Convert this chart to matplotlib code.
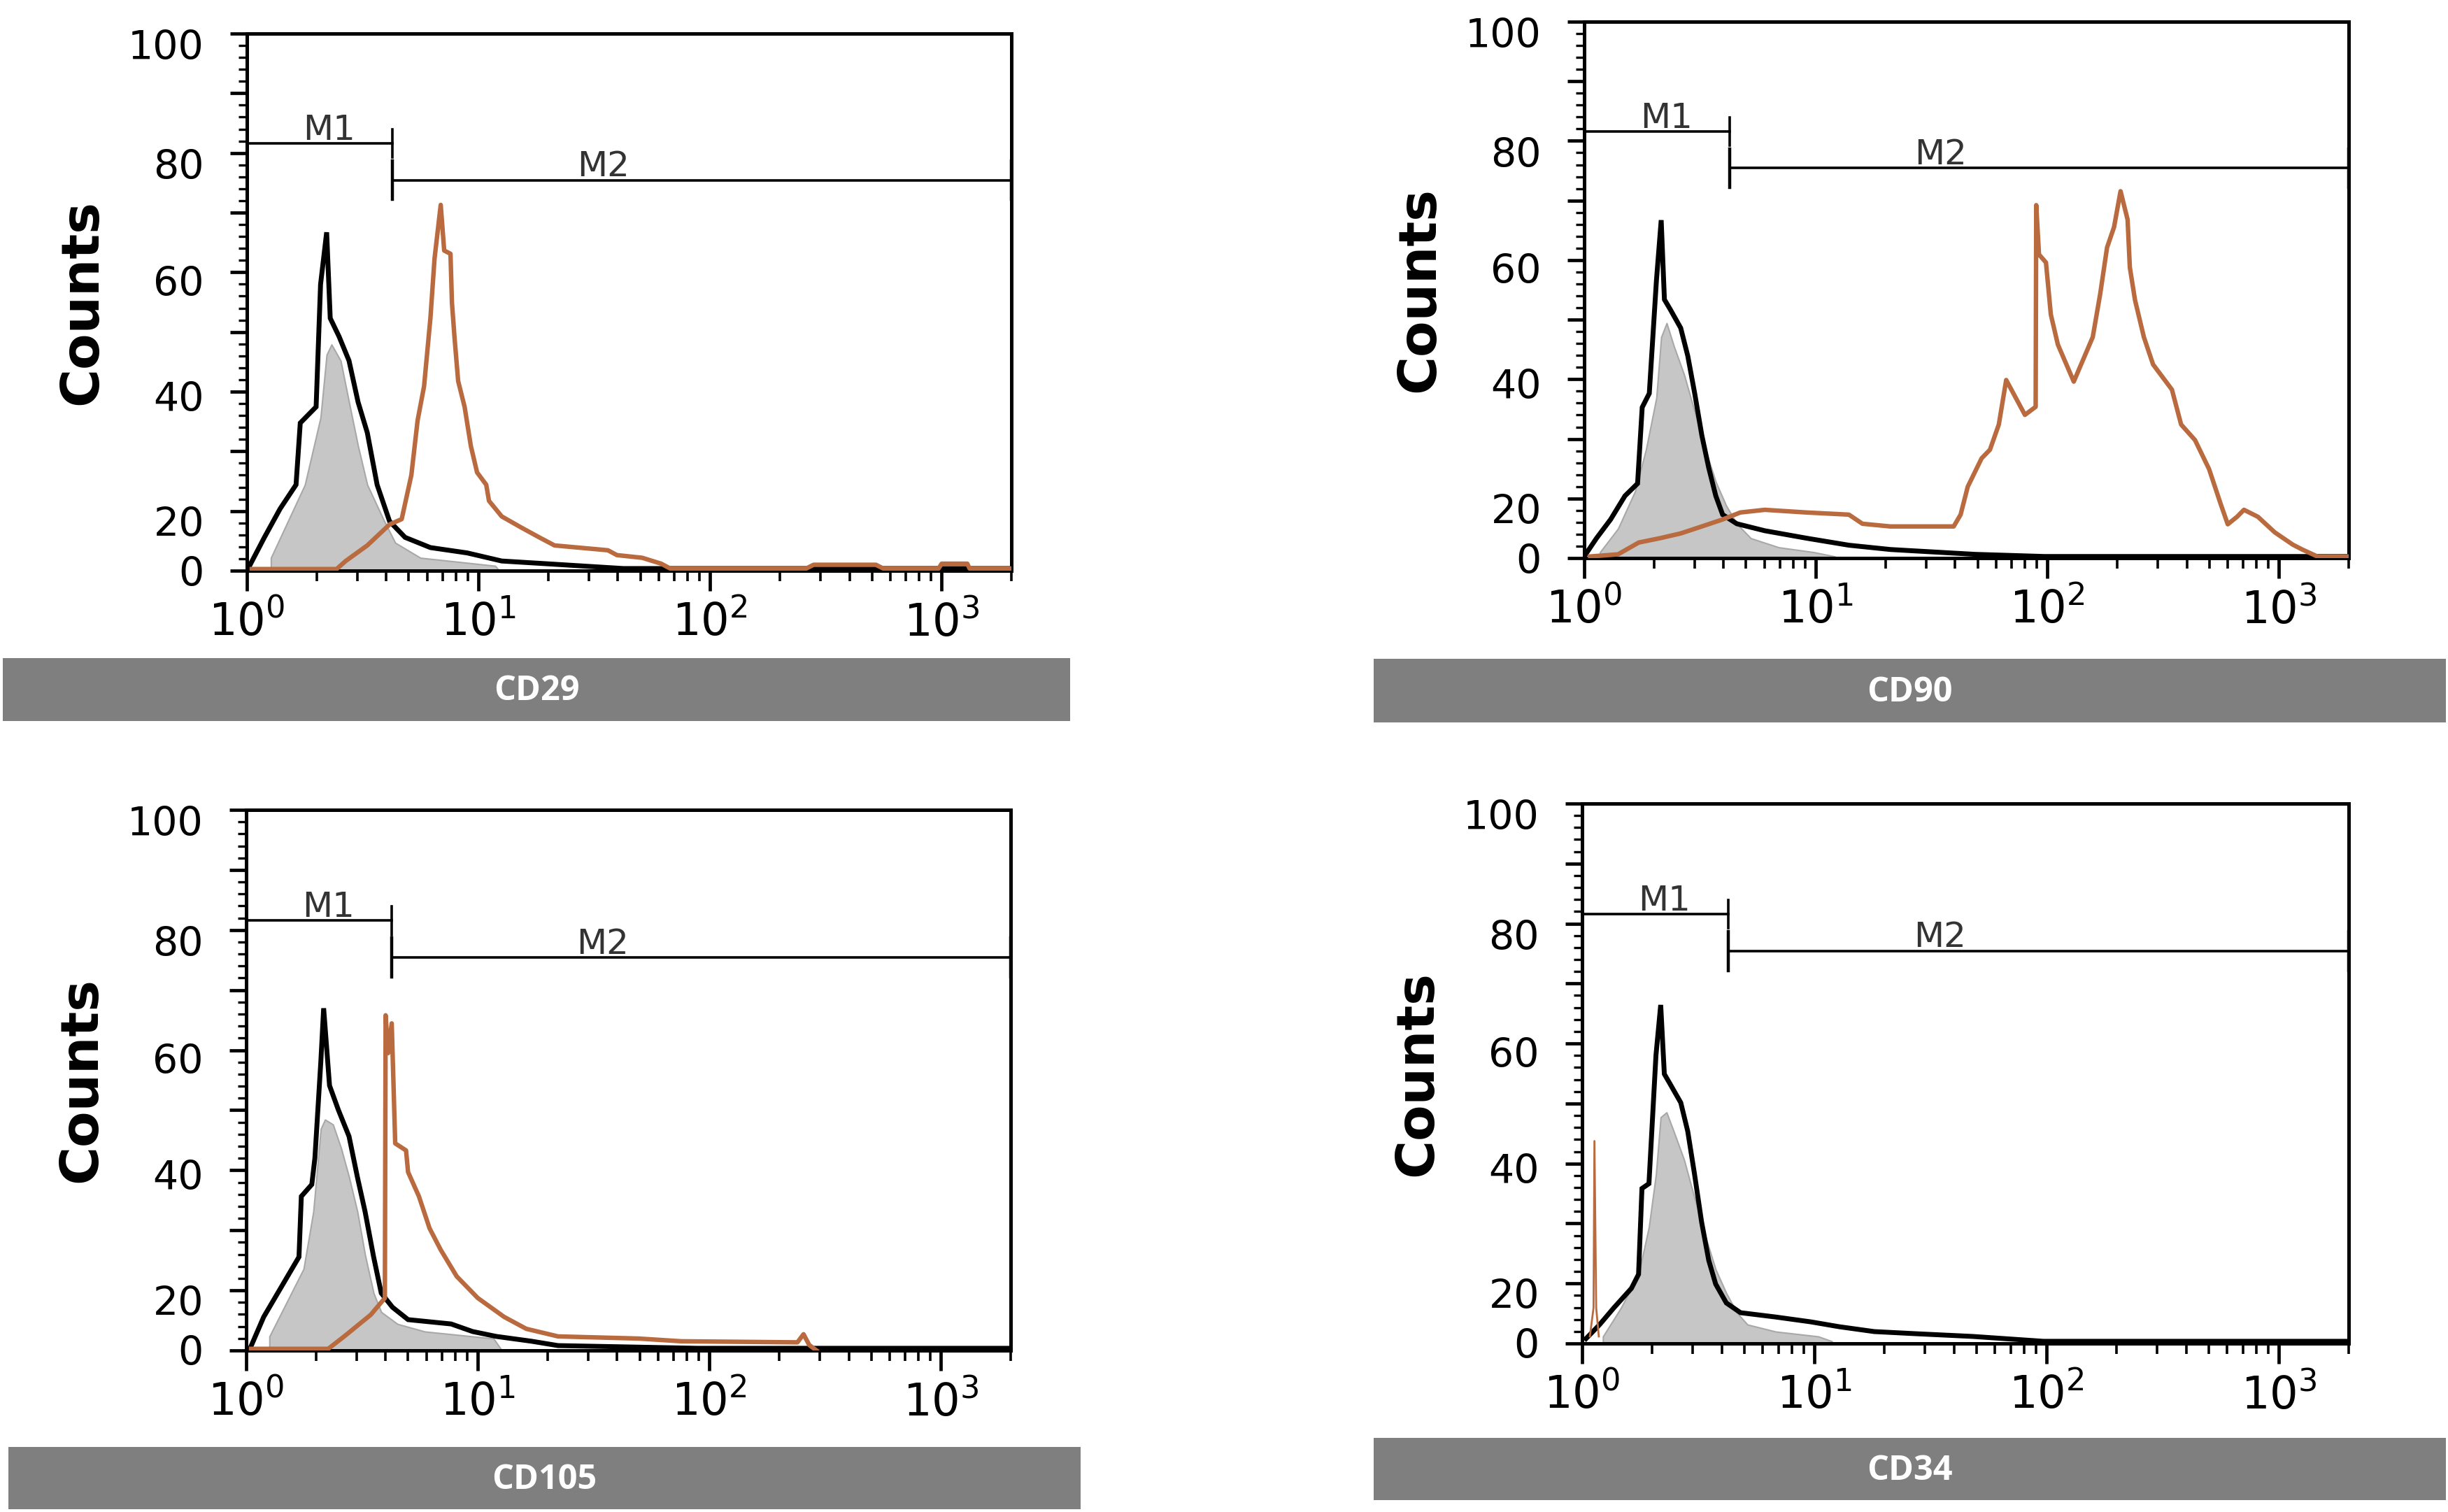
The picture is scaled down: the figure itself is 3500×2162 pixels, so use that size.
import numpy as np
import matplotlib
matplotlib.use("Agg")
from matplotlib import pyplot as plt
from matplotlib.ticker import FixedLocator, MultipleLocator, LogLocator, NullFormatter

# ---- data (x = fluorescence, y = counts on the plot scale) ----
markers = ["CD29", "CD90", "CD105", "CD34"]

cd29_gray_x = [1.27, 1.78, 2.08, 2.21, 2.32, 2.54, 2.76, 3.02, 3.31, 3.88, 4.37, 5.61, 11.8, 12.3]
cd29_gray_y = [2.4, 16.0, 28.5, 40.2, 42.1, 39.1, 31.4, 23.2, 16.0, 9.6, 5.2, 2.4, 0.9, 0.0]
cd29_black_x = [1.01, 1.19, 1.39, 1.63, 1.70, 1.99, 2.08, 2.21, 2.29, 2.50, 2.76, 3.02, 3.31, 3.65,
                4.13, 4.82, 6.20, 8.95, 12.6, 19.5, 42.2, 2000]
cd29_black_y = [0.3, 6.2, 11.5, 16.0, 27.5, 30.5, 53.3, 63.0, 47.0, 43.6, 39.1, 31.4, 25.7, 16.0,
                9.2, 6.2, 4.3, 3.3, 1.8, 1.3, 0.4, 0.4]
cd29_brown_x = [1.05, 2.44, 2.67, 3.31, 4.13, 4.66, 5.13, 5.46, 5.82, 6.20, 6.46, 6.87, 7.11, 7.57,
                7.68, 7.89, 8.17, 8.71, 9.27, 9.86, 10.8, 11.1, 12.6, 15.2, 18.3, 21.3, 36.2, 39.6,
                50.9, 61.5, 67.3, 260, 280, 520, 560, 970, 1000, 1290, 1320, 2000]
cd29_brown_y = [0.3, 0.3, 1.8, 4.7, 8.6, 9.6, 17.8, 28.0, 34.3, 47.0, 58.1, 68.1, 59.6, 59.0,
                49.9, 43.1, 35.3, 30.5, 23.2, 18.3, 16.0, 13.0, 10.1, 8.1, 6.2, 4.7, 3.8, 2.9,
                2.4, 1.3, 0.4, 0.4, 1.1, 1.1, 0.4, 0.4, 1.3, 1.3, 0.4, 0.4]

cd90_gray_x = [1.17, 1.40, 1.66, 1.85, 2.05, 2.15, 2.27, 2.44, 2.70, 3.00, 3.33, 3.70, 4.10, 4.56,
               5.24, 6.92, 9.8, 12.1]
cd90_gray_y = [1.1, 5.5, 12.5, 20.3, 29.9, 41.2, 43.8, 39.5, 34.2, 27.3, 20.3, 14.2, 9.8, 6.4,
               3.7, 2.0, 1.1, 0.3]
cd90_black_x = [1.0, 1.13, 1.30, 1.50, 1.70, 1.78, 1.91, 2.05, 2.15, 2.22, 2.35, 2.61, 2.80, 3.00,
                3.22, 3.45, 3.70, 3.96, 4.56, 6.02, 9.14, 13.9, 21.0, 48.6, 97, 2000]
cd90_black_y = [0.3, 3.7, 7.2, 11.6, 13.9, 28.1, 30.7, 51.7, 63.0, 48.2, 46.4, 42.9, 37.7, 30.7,
                22.9, 16.8, 11.6, 8.1, 6.4, 5.1, 3.7, 2.4, 1.6, 0.7, 0.3, 0.3]
cd90_brown_x = [1.06, 1.40, 1.72, 2.12, 2.61, 3.22, 3.96, 4.72, 6.02, 9.14, 13.9, 15.9, 21.0, 39.4,
                42.2, 45.3, 52.0, 56.5, 61.7, 66.4, 80, 89, 89.5, 92, 98.6, 103.5, 111, 130,
                157, 169, 181, 194, 207, 222, 227, 239, 261, 286, 345, 378, 434, 499, 561,
                601, 659, 706, 811, 959, 1148, 1260, 1466, 2000]
cd90_brown_y = [0.3, 0.7, 2.9, 3.7, 4.6, 5.9, 7.2, 8.5, 9.0, 8.5, 8.1, 6.4, 5.9, 5.9,
                8.1, 13.3, 18.6, 20.2, 24.9, 33.2, 26.7, 28.2, 65.8, 56.6, 55.1, 45.4, 39.8, 32.9,
                41.2, 49.2, 57.9, 61.7, 68.4, 63.1, 54.2, 48.1, 41.2, 36.1, 31.4, 24.9, 22.0, 16.6, 10.0,
                6.3, 7.7, 9.0, 7.7, 4.8, 2.5, 1.6, 0.3, 0.3]

cd105_gray_x = [1.26, 1.77, 1.95, 2.10, 2.19, 2.37, 2.57, 2.78, 3.02, 3.26, 3.55, 3.83, 4.5, 5.9,
                11.7, 12.7]
cd105_gray_y = [2.6, 15.1, 25.7, 41.0, 42.7, 41.8, 37.4, 32.1, 25.7, 17.7, 10.6, 7.1, 4.9, 3.5,
                2.2, 0.0]
cd105_black_x = [1.04, 1.19, 1.69, 1.73, 1.92, 1.98, 2.10, 2.16, 2.29, 2.50, 2.78, 3.02, 3.26, 3.55,
                 3.83, 4.28, 5.0, 7.67, 9.5, 12.0, 17.1, 22.2, 89, 2000]
cd105_black_y = [0.4, 6.2, 17.3, 28.5, 30.7, 35.6, 53.4, 63.3, 49.0, 44.5, 39.6, 32.1, 25.7, 17.3,
                 10.6, 8.0, 5.7, 4.9, 3.5, 2.6, 1.7, 0.9, 0.4, 0.4]
cd105_brown_x = [1.05, 2.26, 2.65, 3.45, 3.97, 4.0, 4.1, 4.25, 4.4, 4.9, 5.0, 5.57, 6.19, 6.92,
                 8.11, 10.0, 13.0, 16.2, 22.2, 49.5, 75.7, 240, 255, 270, 290]
cd105_brown_y = [0.3, 0.3, 2.6, 6.6, 9.7, 62.0, 55.0, 60.5, 38.3, 37.0, 33.0, 28.5, 22.6, 18.6,
                 13.7, 9.7, 6.2, 4.0, 2.6, 2.2, 1.7, 1.5, 3.0, 1.0, 0.0]

cd34_gray_x = [1.23, 1.47, 1.75, 1.94, 2.08, 2.18, 2.31, 2.48, 2.75, 3.05, 3.39, 3.76, 4.18, 4.64,
               5.15, 6.81, 10.4, 11.9]
cd34_gray_y = [1.3, 6.6, 12.8, 21.6, 31.3, 41.9, 42.8, 39.3, 34.0, 26.9, 19.9, 13.7, 9.3, 5.7,
               3.5, 2.2, 1.3, 0.4]
cd34_black_x = [1.04, 1.19, 1.37, 1.63, 1.75, 1.81, 1.94, 2.08, 2.18, 2.26, 2.39, 2.66, 2.85, 3.05,
                3.27, 3.51, 3.76, 4.18, 4.81, 6.81, 9.66, 12.8, 18.1, 27.5, 48.1, 97, 2000]
cd34_black_y = [0.9, 3.5, 6.6, 10.2, 12.8, 28.7, 29.6, 53.4, 62.7, 49.9, 48.1, 44.6, 39.3, 31.3,
                22.5, 15.4, 11.0, 7.5, 5.7, 4.9, 4.0, 3.1, 2.2, 1.8, 1.3, 0.4, 0.4]
cd34_brown_x = [1.08, 1.12, 1.13, 1.15, 1.18]
cd34_brown_y = [1.3, 6.6, 37.5, 6.6, 1.3]

# gate markers
m1_range = [1.0, 4.25]
m2_range = [4.25, 2000]
m1_level = 79.5
m2_level = 72.7

ytick_pos = [0, 9.2, 32.5, 54, 75.7, 98]
ytick_lab = ["0", "20", "40", "60", "80", "100"]

panels = [
    (cd29_gray_x, cd29_gray_y, cd29_black_x, cd29_black_y, cd29_brown_x, cd29_brown_y),
    (cd90_gray_x, cd90_gray_y, cd90_black_x, cd90_black_y, cd90_brown_x, cd90_brown_y),
    (cd105_gray_x, cd105_gray_y, cd105_black_x, cd105_black_y, cd105_brown_x, cd105_brown_y),
    (cd34_gray_x, cd34_gray_y, cd34_black_x, cd34_black_y, cd34_brown_x, cd34_brown_y),
]

W, H = 3500, 2162
# axes boxes in pixels: left, top, right, bottom
ax_boxes = [(353, 48, 1446, 816), (2265, 31, 3358, 798),
            (352, 1158, 1445, 1931), (2262, 1149, 3358, 1921)]
bar_boxes = [(4, 941, 1530, 1031), (1964, 942, 3497, 1033),
             (12, 2069, 1545, 2158), (1964, 2056, 3497, 2145)]

brown = "#b96a3e"

fig = plt.figure(figsize=(W / 100, H / 100), dpi=100)
fig.patch.set_facecolor("white")

for i, name in enumerate(markers):
    gx, gy, kx, ky, bx, by = panels[i]
    l, t, r, b = ax_boxes[i]
    ax = fig.add_axes([l / W, 1 - b / H, (r - l) / W, (b - t) / H])

    ax.fill_between(gx, gy, 0, color="#c6c6c6", edgecolor="#a8a8a8", linewidth=1.5, zorder=2)
    ax.plot(kx, ky, color="black", linewidth=5, solid_joinstyle="miter", zorder=3)
    lw_b = 2.0 if name == "CD34" else 4.6
    ax.plot(bx, by, color=brown, linewidth=lw_b, zorder=4)

    # M1 / M2 gates
    ax.plot(m1_range, [m1_level, m1_level], color="black", linewidth=2.6, zorder=5)
    for xe in m1_range:
        ax.plot([xe, xe], [m1_level - 2.6, m1_level + 2.6], color="black", linewidth=2.6, zorder=5)
    ax.plot(m2_range, [m2_level, m2_level], color="black", linewidth=2.6, zorder=5)
    for xe in m2_range:
        ax.plot([xe, xe], [m2_level - 3.6, m2_level + 3.6], color="black", linewidth=3.2, zorder=5)
    ax.text(2.26, m1_level - 0.6, "M1", ha="center", va="bottom", fontsize=36,
            color="#333333", zorder=6)
    ax.text(34.7, m2_level - 0.6, "M2", ha="center", va="bottom", fontsize=36,
            color="#333333", zorder=6)

    ax.set_xscale("log")
    ax.set_xlim(1, 2000)
    ax.set_ylim(0, 100)

    for s in ax.spines.values():
        s.set_linewidth(3.6)
        s.set_color("black")

    # x axis ticks
    ax.xaxis.set_minor_locator(LogLocator(base=10, subs=np.arange(2, 10), numticks=10))
    ax.xaxis.set_minor_formatter(NullFormatter())
    ax.set_xticks([1, 10, 100, 1000], ["$10^{0}$", "$10^{1}$", "$10^{2}$", "$10^{3}$"])
    ax.tick_params(axis="x", which="major", length=21, width=3.4, direction="out",
                   labelsize=46, pad=10)
    ax.tick_params(axis="x", which="minor", length=11, width=2.6, direction="out")

    # y axis tick marks (comb), labels on a secondary axis
    ax.yaxis.set_major_locator(FixedLocator(np.linspace(0, 100, 10)))
    ax.yaxis.set_minor_locator(MultipleLocator(100 / 45))
    ax.tick_params(axis="y", which="major", length=17, width=3.4, direction="out", labelleft=False)
    ax.tick_params(axis="y", which="minor", length=9, width=2.4, direction="out")

    sec = ax.secondary_yaxis("left")
    sec.set_yticks(ytick_pos, ytick_lab)
    sec.tick_params(length=0, pad=44, labelsize=41)
    sec.spines["left"].set_visible(False)

    fig.text((l - 235) / W, 1 - (t + b) / 2 / H, "Counts", rotation=90, ha="center",
             va="center", fontsize=54, fontweight="bold")

    bl, bt, br, bb = bar_boxes[i]
    bax = fig.add_axes([bl / W, 1 - bb / H, (br - bl) / W, (bb - bt) / H])
    bax.set_facecolor("#7f7f7f")
    bax.set_xticks([])
    bax.set_yticks([])
    for s in bax.spines.values():
        s.set_visible(False)
    bax.text(0.5, 0.47, name, ha="center", va="center", color="white", fontsize=35,
             fontweight="bold", family=["Open Sans", "DejaVu Sans"], transform=bax.transAxes)

fig.savefig("out.png", dpi=100, facecolor="white")
